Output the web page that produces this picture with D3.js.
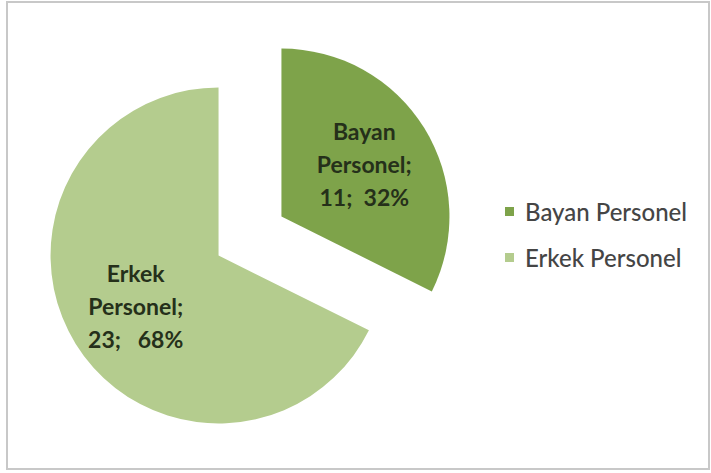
<!DOCTYPE html>
<html>
<head>
<meta charset="utf-8">
<script src="https://cdn.jsdelivr.net/npm/d3@7"></script>
<style>
  body { margin: 0; background: #fff; }
  text { font-family: Lato, "Noto Sans", sans-serif; }
</style>
</head>
<body>
<div id="chart"></div>
<script>
// Datos del gráfico
const categories = ['Bayan Personel', 'Erkek Personel'];
const values = [11, 23];
const labelLines = [['Bayan', 'Personel;'], ['Erkek', 'Personel;']];
const colors = ['#7ea34a', '#b4cc8e'];

const W = 711, H = 473;
const cx = 250, cy = 236, radius = 168, explode = 37;

const svg = d3.select('#chart').append('svg')
  .attr('width', W).attr('height', H);

// Marco
svg.append('rect')
  .attr('x', 7).attr('y', 2).attr('width', 702).attr('height', 467)
  .attr('fill', '#fff').attr('stroke', '#c8c8c8').attr('stroke-width', 2);

const total = d3.sum(values);
const pie = d3.pie().sort(null).value(d => d)(values);
const arc = d3.arc().innerRadius(0).outerRadius(radius);
const labelArc = d3.arc().innerRadius(radius * 1.16).outerRadius(0);

const g = svg.append('g').attr('transform', `translate(${cx},${cy})`);

const slices = g.selectAll('g.slice').data(pie).enter().append('g')
  .attr('class', 'slice')
  .attr('transform', d => {
    const a = (d.startAngle + d.endAngle) / 2;
    return `translate(${Math.sin(a) * explode},${-Math.cos(a) * explode})`;
  });

slices.append('path')
  .attr('d', arc)
  .attr('fill', (d, i) => colors[i]);

// Etiquetas de datos
const pct = d3.format('.0%');
const spacer = ['  ', '   '];
slices.append('text')
  .attr('text-anchor', 'middle')
  .attr('fill', '#25301a')
  .attr('font-size', 23)
  .attr('font-weight', 'bold')
  .style('white-space', 'pre')
  .each(function (d, i) {
    const [x, y] = labelArc.centroid(d);
    const lines = labelLines[i].concat([`${values[i]};${spacer[i]}${pct(values[i] / total)}`]);
    const t = d3.select(this);
    lines.forEach((ln, k) => {
      t.append('tspan')
        .attr('x', x)
        .attr('y', y + (k - 1) * 33 + 8)
        .text(ln);
    });
  });

// Leyenda
const legend = svg.append('g').attr('transform', 'translate(505,207)');
const items = legend.selectAll('g').data(categories).enter().append('g')
  .attr('transform', (d, i) => `translate(0,${i * 46})`);
items.append('rect')
  .attr('width', 9).attr('height', 9)
  .attr('fill', (d, i) => colors[i]);
items.append('text')
  .attr('x', 20).attr('y', 14)
  .attr('font-size', 24)
  .attr('font-weight', 500)
  .attr('fill', '#454545')
  .text(d => d);
</script>
</body>
</html>
